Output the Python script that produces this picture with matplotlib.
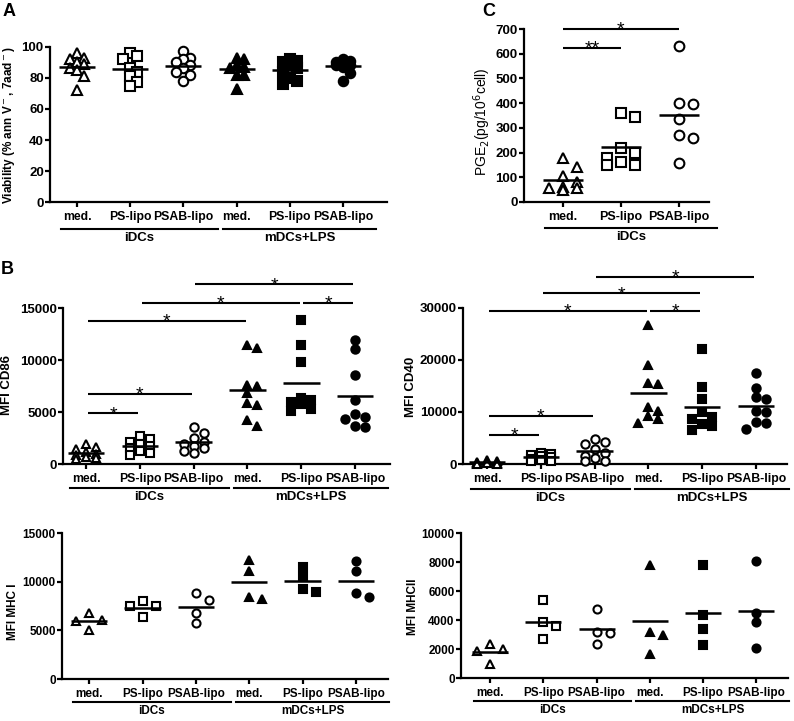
import matplotlib
matplotlib.use('Agg')
import matplotlib.pyplot as plt
import numpy as np
from matplotlib.transforms import blended_transform_factory, ScaledTranslation
from matplotlib.lines import Line2D

plt.rcParams['font.family'] = ['Liberation Sans', 'DejaVu Sans']

# ---------------- data ----------------
categories = ['med.', 'PS-lipo', 'PSAB-lipo', 'med.', 'PS-lipo', 'PSAB-lipo']
groups = ['iDCs', 'mDCs+LPS']

viability = [
    [96, 93, 92, 90, 89, 86, 85, 81, 72],
    [96, 94, 92, 86, 84, 81, 77, 75],
    [97, 93, 92, 90, 88, 86, 84, 82, 78],
    [93, 92, 88, 87, 86, 82, 82, 73],
    [92, 91, 90, 88, 86, 84, 80, 78, 76],
    [92, 91, 90, 89, 88, 88, 87, 83, 78],
]
pge2 = [
    [180, 140, 105, 80, 60, 55, 55, 50],
    [360, 345, 220, 200, 180, 160, 150, 150],
    [633, 400, 397, 335, 271, 258, 159],
]
cd86 = [
    [1900, 1600, 1400, 1200, 1000, 900, 700, 600, 500],
    [2700, 2400, 2100, 1900, 1700, 1500, 1300, 1100, 900],
    [3600, 3000, 2500, 2100, 1900, 1700, 1500, 1300, 1100],
    [11500, 11200, 7600, 7500, 6800, 5900, 5700, 4250, 3700],
    [13900, 11500, 9800, 6400, 6200, 6000, 5800, 5300, 5100],
    [11900, 11100, 8600, 6200, 4800, 4500, 4300, 3700, 3600],
]
cd40 = [
    [800, 600, 400, 300, 200, 150, 100, 50, 50],
    [2100, 1900, 1700, 1500, 1300, 1000, 800, 600, 500],
    [4800, 4200, 3900, 2800, 2200, 1600, 1100, 600, 500],
    [26700, 19000, 15600, 15400, 11000, 10200, 9200, 8600, 7800],
    [22000, 14700, 12400, 10000, 9000, 8700, 7600, 7200, 6500],
    [17400, 14600, 12800, 12500, 10200, 10000, 8100, 7800, 6700],
]
mhc1 = [
    [6800, 6100, 6000, 5000],
    [8000, 7500, 7500, 6400],
    [8900, 8100, 6800, 5800],
    [12200, 11100, 8400, 8200],
    [11500, 10500, 9300, 9000],
    [12100, 11100, 8900, 8400],
]
mhc2 = [
    [2400, 2000, 1900, 1000],
    [5400, 3900, 3600, 2700],
    [4800, 3200, 3100, 2400],
    [7800, 3200, 3000, 1700],
    [7800, 4400, 3400, 2300],
    [8100, 4500, 3900, 2100],
]

viability_ticks = [0, 20, 40, 60, 80, 100]
pge2_ticks = [0, 100, 200, 300, 400, 500, 600, 700]
cd86_ticks = [0, 5000, 10000, 15000]
cd40_ticks = [0, 10000, 20000, 30000]
mhc1_ticks = [0, 5000, 10000, 15000]
mhc2_ticks = [0, 2000, 4000, 6000, 8000, 10000]

# significance brackets: (from group, to group, level, label)
pge2_sig = [(0, 2, 700, '*'), (0, 1, 623, '**')]
cd86_sig = [(2, 5, 17300, '*'), (1, 4, 15540, '*'), (4, 5, 15540, '*'),
            (0, 3, 13780, '*'), (0, 2, 6740, '*'), (0, 1, 4880, '*')]
cd40_sig = [(2, 5, 35950, '*'), (1, 4, 32760, '*'), (0, 3, 29420, '*'),
            (3, 4, 29420, '*'), (0, 2, 9270, '*'), (0, 1, 5570, '*')]

markers = ['^', 's', 'o', '^', 's', 'o']
filled = [False, False, False, True, True, True]

# ---------------- figure ----------------
W, H = 794, 721
fig = plt.figure(figsize=(W / 100, H / 100), dpi=100)


def px_rect(left, right, top, bottom):
    return [left / W, 1 - bottom / H, (right - left) / W, (bottom - top) / H]


def swarm(ax, xc, vals, col, step, maxw):
    pts = ax.transData.transform(np.column_stack([np.full(len(vals), xc), vals]))
    ys = pts[:, 1]
    x0 = ax.transData.transform((xc, 0))[0]
    x1 = ax.transData.transform((xc + 1, 0))[0]
    ppu = x1 - x0
    order = np.argsort(-np.asarray(vals, float))
    cands = [0.0]
    k = 1
    while k * step <= maxw + 1e-9:
        cands += [k * step, -k * step]
        k += 1
    placed = []
    offs = np.zeros(len(vals))
    for idx in order:
        y = ys[idx]
        best, bestd = None, -1
        for c in cands:
            if placed:
                d = min(np.hypot(c - px, y - py) for px, py in placed)
            else:
                d = 1e9
            if d >= col:
                best = c
                break
            if d > bestd:
                bestd, best = d, c
        placed.append((best, y))
        offs[idx] = best / ppu
    return offs


def panel(rect, data, ticks, xlim, ms, tickfs, xfs, sw, ylab, ylab_xy, ylab_fs, ylab_w,
          grp_dy, ngroups=2):
    ax = fig.add_axes(rect)
    n = len(data)
    ax.set_xlim(*xlim)
    ax.set_ylim(ticks[0], ticks[-1])
    for s in ['top', 'right']:
        ax.spines[s].set_visible(False)
    for s in ['left', 'bottom']:
        ax.spines[s].set_linewidth(1.6)
    ax.set_xticks(range(n))
    ax.set_xticklabels(categories[:n], fontsize=xfs, fontweight='bold')
    ax.set_yticks(ticks)
    ax.set_yticklabels([str(t) for t in ticks], fontsize=tickfs, fontweight='bold')
    ax.tick_params(axis='both', direction='out', width=1.6, length=3.5)
    ax.tick_params(axis='y', pad=1)
    ax.tick_params(axis='x', pad=3)
    for i, vals in enumerate(data):
        offs = swarm(ax, i, vals, *sw)
        ax.plot(i + offs, vals, linestyle='none', marker=markers[i], ms=ms,
                mfc='black' if filled[i] else 'white', mec='black', mew=1.5,
                clip_on=False, zorder=3)
        m = np.mean(vals)
        ax.plot([i - 0.34, i + 0.34], [m, m], color='black', lw=1.8, zorder=4,
                solid_capstyle='butt')
    # group underline + labels
    for g in range(ngroups):
        a = 3 * g
        b = min(3 * g + 2, n - 1)
        x0 = a - (0.3 if g == 0 else 0.25)
        x1 = b + (0.65 if g == 0 else 0.62)
        tr = blended_transform_factory(ax.transData, ax.transAxes) + \
            ScaledTranslation(0, -grp_dy / 72, fig.dpi_scale_trans)
        ax.add_line(Line2D([x0, x1], [0, 0], transform=tr, color='black', lw=1.5,
                           clip_on=False))
        tr2 = blended_transform_factory(ax.transData, ax.transAxes) + \
            ScaledTranslation(0, -(grp_dy + 2.0) / 72, fig.dpi_scale_trans)
        ax.text((x0 + x1) / 2, 0, groups[g], transform=tr2, ha='center', va='top',
                fontsize=tickfs, fontweight='bold')
    fig.text(ylab_xy[0] / W, 1 - ylab_xy[1] / H, ylab, rotation=90, ha='center',
             va='center', fontsize=ylab_fs, fontweight=ylab_w)
    return ax


def sig(ax, items, inset=0.03, fs=14):
    for a, b, lvl, lab in items:
        ax.plot([a + inset, b - inset], [lvl, lvl], color='black', lw=1.5,
                clip_on=False, solid_capstyle='butt')
        ax.annotate(lab, xy=((a + b) / 2, lvl), xytext=(0, -4.2),
                    textcoords='offset points', ha='center', va='baseline',
                    fontsize=fs, annotation_clip=False)


# Panel A
axA = panel(px_rect(50, 387, 46.7, 202.3), viability, viability_ticks, (-0.51, 5.83),
            6.8, 9.5, 8.8, (7, 7, 10), 'Viability (% ann V$^-$, 7aad$^-$)', (9, 125), 8.5,
            'bold', 19.5)

# Panel C
axC = panel(px_rect(524, 709, 29, 202), pge2, pge2_ticks, (-0.67, 2.52),
            7.0, 9.5, 9.0, (10, 14, 15), 'PGE$_2$(pg/10$^6$cell)', (482, 122), 10,
            'normal', 19, ngroups=1)
sig(axC, pge2_sig, inset=0.0)

# Panel B CD86
axB1 = panel(px_rect(63, 390, 308.3, 464), cd86, cd86_ticks, (-0.43, 5.65),
             6.0, 9.5, 8.8, (8, 10, 12), 'MFI CD86', (7, 385), 9.5, 'bold', 17.5)
sig(axB1, cd86_sig)

# Panel B CD40
axB2 = panel(px_rect(463, 787, 307.7, 464), cd40, cd40_ticks, (-0.45, 5.58),
             6.0, 9.5, 8.8, (8, 10, 12), 'MFI CD40', (411, 387), 9.5, 'bold', 18)
sig(axB2, cd40_sig)

# Panel B MHC I
axB3 = panel(px_rect(62, 388, 533.3, 679), mhc1, mhc1_ticks, (-0.51, 5.6),
             5.8, 8.5, 8.5, (8, 13, 13), 'MFI MHC I', (13, 612), 8.5, 'bold', 16.5)

# Panel B MHC II
axB4 = panel(px_rect(461, 788, 533.3, 678.3), mhc2, mhc2_ticks, (-0.55, 5.6),
             5.8, 8.5, 8.5, (8, 13, 13), 'MFI MHCII', (413, 607), 8.5, 'bold', 16.5)

# Panel letters
fig.text(3 / W, 1 - 12 / H, 'A', fontsize=13, fontweight='bold', va='center', ha='left')
fig.text(1 / W, 1 - 269 / H, 'B', fontsize=13, fontweight='bold', va='center', ha='left')
fig.text(482 / W, 1 - 11 / H, 'C', fontsize=13, fontweight='bold', va='center', ha='left')

fig.savefig('out.png', dpi=100)
